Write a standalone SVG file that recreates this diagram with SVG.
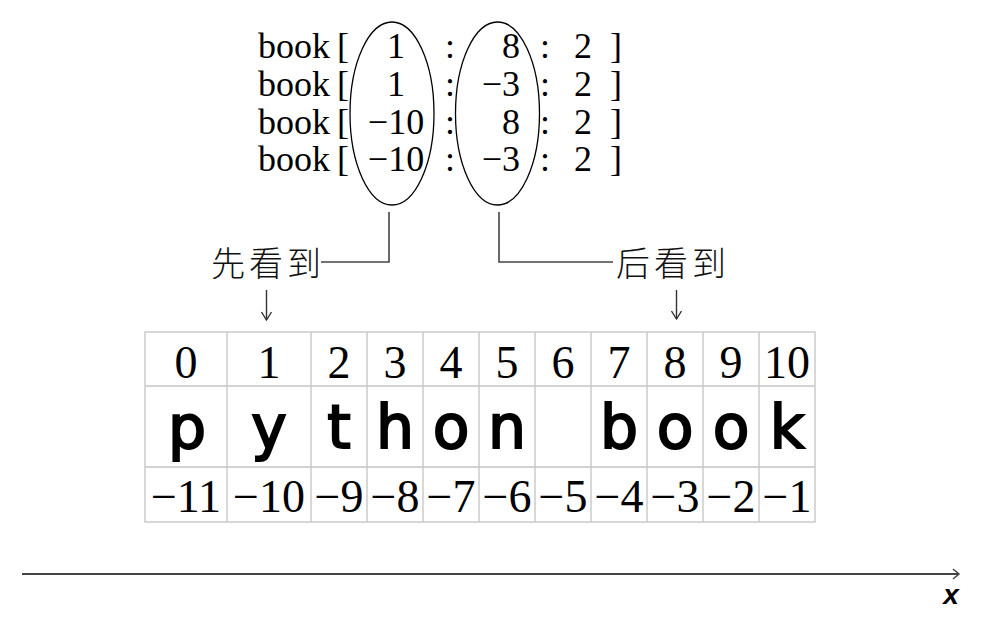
<svg xmlns="http://www.w3.org/2000/svg" width="984" height="622" viewBox="0 0 984 622">
<defs>
<style>
.code{font-family:"Liberation Serif","Times New Roman",serif;font-size:36px;fill:#000}
.num{font-family:"Liberation Serif","Times New Roman",serif;font-size:46px;fill:#000;text-anchor:middle}
.let{font-family:"DejaVu Sans",sans-serif;font-size:60px;fill:#000;stroke:#000;stroke-width:2;text-anchor:middle}
.cjk{font-family:"Noto Sans CJK SC",sans-serif;font-size:34px;font-weight:300;fill:#111;letter-spacing:4px}
.ell{fill:none;stroke:#000;stroke-width:1.3}
.conn{fill:none;stroke:#444;stroke-width:1.6}
.grid{fill:none;stroke:#c4c4c4;stroke-width:1.3}
.mid{text-anchor:middle}
.end{text-anchor:end}
</style>
<marker id="vhead" viewBox="0 0 12 12" refX="10" refY="6" markerWidth="12" markerHeight="12" markerUnits="userSpaceOnUse" orient="auto">
<path d="M2,1 L10,6 L2,11" fill="none" stroke="#333" stroke-width="1.4"/>
</marker>
</defs>
<rect width="984" height="622" fill="#fff"/>

<g id="code">
<text class="code" x="258" y="58">book</text>
<text class="code" x="258" y="96">book</text>
<text class="code" x="258" y="134">book</text>
<text class="code" x="258" y="171">book</text>
<text class="code" x="337" y="58">[</text>
<text class="code" x="337" y="96">[</text>
<text class="code" x="337" y="134">[</text>
<text class="code" x="337" y="171">[</text>
<text class="code mid" x="396" y="58">1</text>
<text class="code mid" x="396" y="96">1</text>
<text class="code mid" x="396" y="134">−10</text>
<text class="code mid" x="396" y="171">−10</text>
<text class="code mid" x="450" y="58">:</text>
<text class="code mid" x="450" y="96">:</text>
<text class="code mid" x="450" y="134">:</text>
<text class="code mid" x="450" y="171">:</text>
<text class="code end" x="520" y="58">8</text>
<text class="code end" x="520" y="96">−3</text>
<text class="code end" x="520" y="134">8</text>
<text class="code end" x="520" y="171">−3</text>
<text class="code mid" x="545" y="58">:</text>
<text class="code mid" x="545" y="96">:</text>
<text class="code mid" x="545" y="134">:</text>
<text class="code mid" x="545" y="171">:</text>
<text class="code mid" x="583" y="58">2</text>
<text class="code mid" x="583" y="96">2</text>
<text class="code mid" x="583" y="134">2</text>
<text class="code mid" x="583" y="171">2</text>
<text class="code" x="610" y="58">]</text>
<text class="code" x="610" y="96">]</text>
<text class="code" x="610" y="134">]</text>
<text class="code" x="610" y="171">]</text>
</g>

<g id="ellipse-start">
<ellipse class="ell" cx="392" cy="113.5" rx="42" ry="91.5"/>
</g>
<g id="ellipse-stop">
<ellipse class="ell" cx="497.5" cy="113.5" rx="42" ry="91.5"/>
</g>

<g id="label-first">
<text class="cjk" x="211" y="276">先看到</text>
</g>
<g id="label-later">
<text class="cjk" x="616" y="276">后看到</text>
</g>

<g id="connectors">
<path class="conn" d="M389,212 V262 H321"/>
<path class="conn" d="M499,212 V262 H613"/>
<line x1="266.5" y1="290" x2="266.5" y2="320" stroke="#333" stroke-width="1.4" marker-end="url(#vhead)"/>
<line x1="676.5" y1="290" x2="676.5" y2="319" stroke="#333" stroke-width="1.4" marker-end="url(#vhead)"/>
</g>

<g id="table">
<rect class="grid" x="145" y="332" width="670" height="190"/>
<line class="grid" x1="145" y1="386" x2="815" y2="386"/>
<line class="grid" x1="145" y1="467" x2="815" y2="467"/>
<path class="grid" d="M227,332V522M311,332V522M367,332V522M423,332V522M479,332V522M535,332V522M591,332V522M647,332V522M703,332V522M759,332V522"/>
<g id="row-positive">
<text class="num" x="186" y="378">0</text>
<text class="num" x="269" y="378">1</text>
<text class="num" x="339" y="378">2</text>
<text class="num" x="395" y="378">3</text>
<text class="num" x="451" y="378">4</text>
<text class="num" x="507" y="378">5</text>
<text class="num" x="563" y="378">6</text>
<text class="num" x="619" y="378">7</text>
<text class="num" x="675" y="378">8</text>
<text class="num" x="731" y="378">9</text>
<text class="num" x="787" y="378">10</text>
</g>
<g id="row-chars">
<text class="let" x="187" y="448">p</text>
<text class="let" x="269" y="448">y</text>
<text class="let" x="339" y="448">t</text>
<text class="let" x="395" y="448">h</text>
<text class="let" x="451" y="448">o</text>
<text class="let" x="507" y="448">n</text>
<text class="let" x="619" y="448">b</text>
<text class="let" x="675" y="448">o</text>
<text class="let" x="731" y="448">o</text>
<text class="let" x="787" y="448">k</text>
</g>
<g id="row-negative">
<text class="num" x="186" y="512">−11</text>
<text class="num" x="269" y="512">−10</text>
<text class="num" x="339" y="512">−9</text>
<text class="num" x="395" y="512">−8</text>
<text class="num" x="451" y="512">−7</text>
<text class="num" x="507" y="512">−6</text>
<text class="num" x="563" y="512">−5</text>
<text class="num" x="619" y="512">−4</text>
<text class="num" x="675" y="512">−3</text>
<text class="num" x="731" y="512">−2</text>
<text class="num" x="787" y="512">−1</text>
</g>
</g>

<g id="axis">
<line x1="22" y1="574" x2="958" y2="574" stroke="#444" stroke-width="2"/>
<path d="M953,569 L959,574 L953,579" fill="none" stroke="#444" stroke-width="1.5"/>
<text x="951" y="604" font-family="Liberation Sans, Arial, sans-serif" font-size="28" font-weight="bold" font-style="italic" text-anchor="middle" fill="#000">x</text>
</g>
</svg>
